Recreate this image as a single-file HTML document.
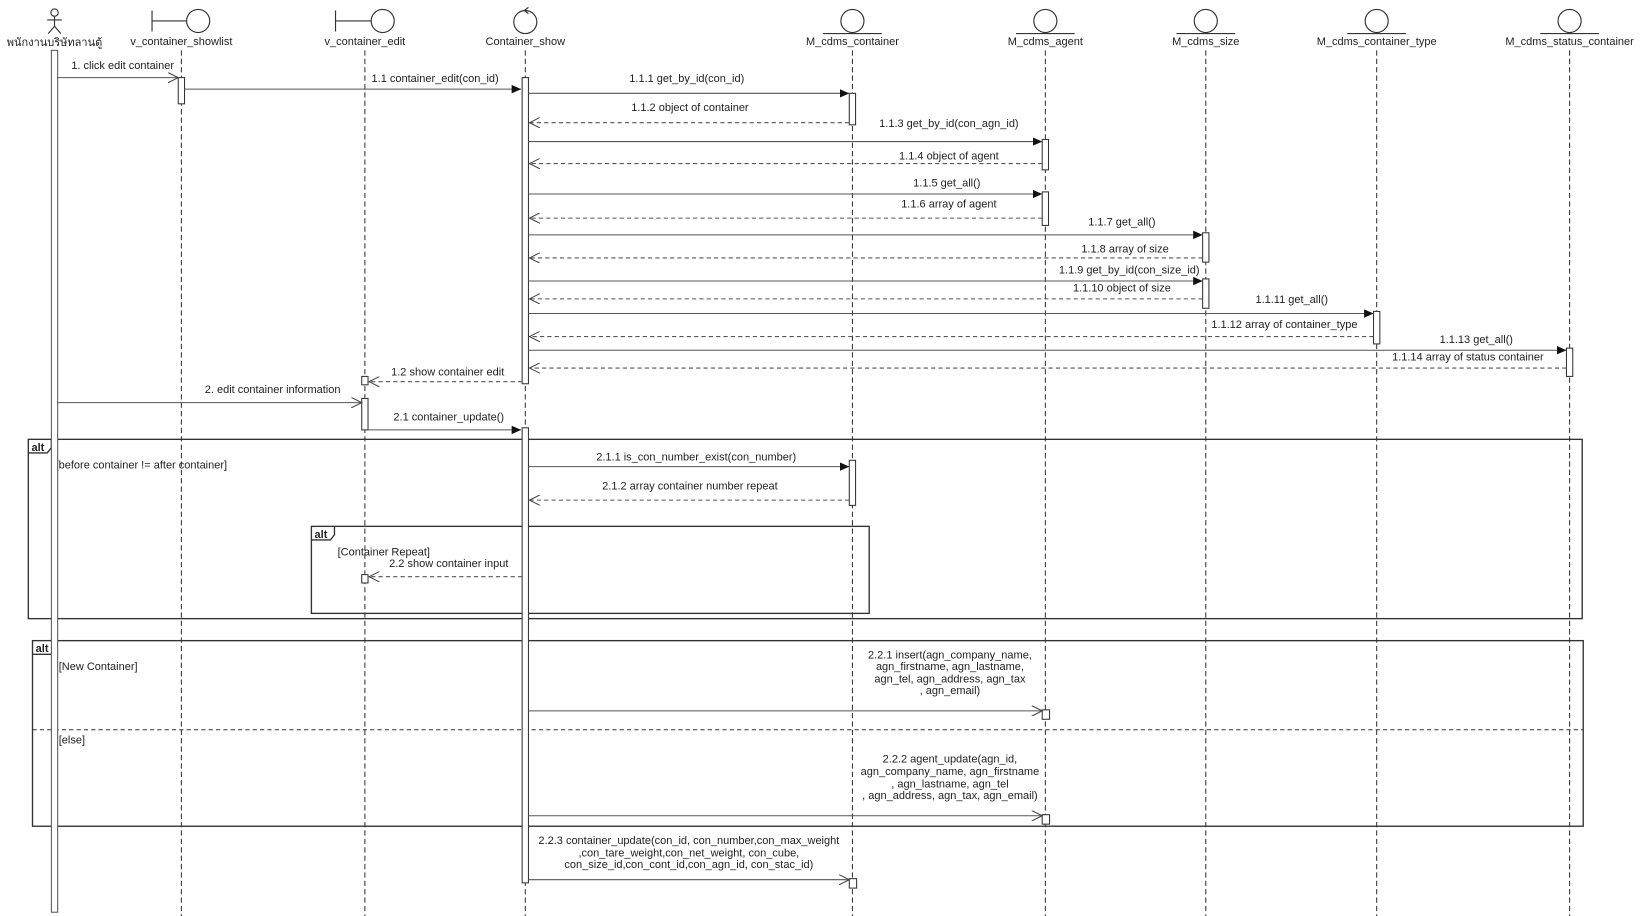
<!DOCTYPE html>
<html><head><meta charset="utf-8"><style>
html,body{margin:0;padding:0;background:#fff;width:1643px;height:916px;overflow:hidden}
svg{display:block}
text{font-family:"Liberation Sans","Noto Sans CJK SC",sans-serif;font-size:10.5px;fill:#222}
.ll{stroke:#333;stroke-width:1;stroke-dasharray:5,3}
.m{stroke:#555;stroke-width:1;fill:none}
.r{stroke:#555;stroke-width:1;fill:none;stroke-dasharray:4,3}
.act{fill:#fff;stroke:#333;stroke-width:1}
.fr{fill:none;stroke:#333;stroke-width:1.3}
.ic{fill:none;stroke:#333;stroke-width:1.1}
</style></head><body>
<svg width="1643" height="916" viewBox="0 0 1567 873.6" xmlns="http://www.w3.org/2000/svg">
<defs>
<marker id="f" markerWidth="10" markerHeight="10" refX="9" refY="4" orient="auto" markerUnits="userSpaceOnUse"><path d="M0,0 L9,4 L0,8 Z" fill="#111"/></marker>
<marker id="o" markerWidth="12" markerHeight="10" refX="10" refY="5" orient="auto" markerUnits="userSpaceOnUse"><path d="M0,0 L10,5 L0,10" fill="none" stroke="#444" stroke-width="1"/></marker>
</defs>
<!-- lifelines -->
<line class="ll" x1="173" y1="48" x2="173" y2="874"/>
<line class="ll" x1="348" y1="48" x2="348" y2="874"/>
<line class="ll" x1="501" y1="48" x2="501" y2="874"/>
<line class="ll" x1="813" y1="48" x2="813" y2="874"/>
<line class="ll" x1="997" y1="48" x2="997" y2="874"/>
<line class="ll" x1="1150" y1="48" x2="1150" y2="874"/>
<line class="ll" x1="1313" y1="48" x2="1313" y2="874"/>
<line class="ll" x1="1497" y1="48" x2="1497" y2="874"/>
<!-- header icons -->
<circle class="ic" cx="52" cy="12" r="3.5"/>
<path class="ic" d="M52,15.5 V25 M45,19 H59 M52,25 L46,32 M52,25 L58,32"/>
<path class="ic" d="M145,10 V30 M145,20 H178"/><circle class="ic" cx="189" cy="20" r="11"/>
<path class="ic" d="M320,10 V30 M320,20 H354"/><circle class="ic" cx="365" cy="20" r="11"/>
<circle class="ic" cx="501" cy="21" r="11"/><path class="ic" d="M504,7 L500,10 L504,13"/>
<g class="ic">
<circle cx="813" cy="20" r="11"/><line x1="785" y1="32" x2="841" y2="32"/>
<circle cx="997" cy="20" r="11"/><line x1="969" y1="32" x2="1025" y2="32"/>
<circle cx="1150" cy="20" r="11"/><line x1="1122" y1="32" x2="1178" y2="32"/>
<circle cx="1313" cy="20" r="11"/><line x1="1285" y1="32" x2="1341" y2="32"/>
<circle cx="1497" cy="20" r="11"/><line x1="1469" y1="32" x2="1525" y2="32"/>
</g>
<g text-anchor="middle">
<text x="52" y="44">พนักงานบริษัทลานตู้</text>
<text x="173" y="43">v_container_showlist</text>
<text x="348" y="43">v_container_edit</text>
<text x="501" y="43">Container_show</text>
<text x="813" y="43">M_cdms_container</text>
<text x="997" y="43">M_cdms_agent</text>
<text x="1150" y="43">M_cdms_size</text>
<text x="1313" y="43">M_cdms_container_type</text>
<text x="1497" y="43">M_cdms_status_container</text>
</g>
<!-- frames -->
<rect class="fr" x="27" y="419" width="1482" height="171"/>
<path class="fr" d="M27,432 H45 L49,427 V419" fill="#fff"/>
<text x="30" y="430" style="font-weight:bold">alt</text>
<text x="53" y="447">[before container != after container]</text>
<rect class="fr" x="297" y="502" width="532" height="83"/>
<path class="fr" d="M297,515 H315 L319,510 V502"/>
<text x="300" y="513" style="font-weight:bold">alt</text>
<text x="322" y="530">[Container Repeat]</text>
<rect class="fr" x="31" y="611" width="1479" height="177"/>
<path class="fr" d="M31,624 H49 L53,619 V611"/>
<text x="34" y="622" style="font-weight:bold">alt</text>
<text x="56" y="639">[New Container]</text>
<line x1="31" y1="696" x2="1510" y2="696" stroke="#333" stroke-dasharray="4,3"/>
<text x="56" y="709">[else]</text>
<!-- actor bar -->
<rect class="act" x="49" y="48" width="6" height="822" style="stroke:#555"/>
<!-- activations -->
<rect class="act" x="170" y="74" width="6" height="25"/>
<rect class="act" x="498" y="74" width="6" height="292"/>
<rect class="act" x="810" y="89" width="6" height="30"/>
<rect class="act" x="994" y="133" width="6" height="29"/>
<rect class="act" x="994" y="183" width="6" height="32"/>
<rect class="act" x="1147" y="222" width="6" height="28"/>
<rect class="act" x="1147" y="266" width="6" height="28"/>
<rect class="act" x="1310" y="297" width="6" height="31"/>
<rect class="act" x="1494" y="332" width="6" height="27"/>
<rect class="act" x="345" y="359" width="6" height="8"/>
<rect class="act" x="345" y="380" width="6" height="30"/>
<rect class="act" x="498" y="408" width="6" height="434"/>
<rect class="act" x="810" y="439" width="6" height="43"/>
<rect class="act" x="345" y="548" width="6" height="8"/>
<rect class="act" x="994" y="677" width="7" height="9"/>
<rect class="act" x="994" y="777" width="7" height="9"/>
<rect class="act" x="810" y="838" width="7" height="9"/>
<!-- messages -->
<line class="m" x1="55" y1="74" x2="170" y2="74" marker-end="url(#o)"/>
<line class="m" x1="176" y1="85" x2="497" y2="85" marker-end="url(#f)"/>
<line class="m" x1="504" y1="89" x2="810" y2="89" marker-end="url(#f)"/>
<line class="r" x1="810" y1="117" x2="505" y2="117" marker-end="url(#o)"/>
<line class="m" x1="504" y1="135" x2="994" y2="135" marker-end="url(#f)"/>
<line class="r" x1="994" y1="156" x2="505" y2="156" marker-end="url(#o)"/>
<line class="m" x1="504" y1="185" x2="994" y2="185" marker-end="url(#f)"/>
<line class="r" x1="994" y1="208" x2="505" y2="208" marker-end="url(#o)"/>
<line class="m" x1="504" y1="224" x2="1147" y2="224" marker-end="url(#f)"/>
<line class="r" x1="1147" y1="246" x2="505" y2="246" marker-end="url(#o)"/>
<line class="m" x1="504" y1="268" x2="1147" y2="268" marker-end="url(#f)"/>
<line class="r" x1="1147" y1="285" x2="505" y2="285" marker-end="url(#o)"/>
<line class="m" x1="504" y1="299" x2="1310" y2="299" marker-end="url(#f)"/>
<line class="r" x1="1310" y1="321" x2="505" y2="321" marker-end="url(#o)"/>
<line class="m" x1="504" y1="334" x2="1494" y2="334" marker-end="url(#f)"/>
<line class="r" x1="1494" y1="351" x2="505" y2="351" marker-end="url(#o)"/>
<line class="r" x1="498" y1="364" x2="352" y2="364" marker-end="url(#o)"/>
<line class="m" x1="55" y1="384" x2="345" y2="384" marker-end="url(#o)"/>
<line class="m" x1="351" y1="410" x2="497" y2="410" marker-end="url(#f)"/>
<line class="m" x1="504" y1="445" x2="810" y2="445" marker-end="url(#f)"/>
<line class="r" x1="810" y1="477" x2="505" y2="477" marker-end="url(#o)"/>
<line class="r" x1="498" y1="550" x2="352" y2="550" marker-end="url(#o)"/>
<line class="m" x1="504" y1="678" x2="994" y2="678" marker-end="url(#o)"/>
<line class="m" x1="504" y1="778" x2="994" y2="778" marker-end="url(#o)"/>
<line class="m" x1="504" y1="839" x2="810" y2="839" marker-end="url(#o)"/>
<!-- labels -->
<g text-anchor="middle">
<text x="117" y="66">1. click edit container</text>
<text x="415" y="78">1.1 container_edit(con_id)</text>
<text x="655" y="78">1.1.1 get_by_id(con_id)</text>
<text x="658" y="106">1.1.2 object of container</text>
<text x="905" y="121">1.1.3 get_by_id(con_agn_id)</text>
<text x="905" y="152">1.1.4 object of agent</text>
<text x="903" y="178">1.1.5 get_all()</text>
<text x="905" y="198">1.1.6 array of agent</text>
<text x="1070" y="215">1.1.7 get_all()</text>
<text x="1073" y="241">1.1.8 array of size</text>
<text x="1077" y="261">1.1.9 get_by_id(con_size_id)</text>
<text x="1070" y="278">1.1.10 object of size</text>
<text x="1232" y="289">1.1.11 get_all()</text>
<text x="1225" y="313">1.1.12 array of container_type</text>
<text x="1408" y="327">1.1.13 get_all()</text>
<text x="1400" y="344">1.1.14 array of status container</text>
<text x="427" y="358">1.2 show container edit</text>
<text x="260" y="375">2. edit container information</text>
<text x="428" y="401">2.1 container_update()</text>
<text x="664" y="439">2.1.1 is_con_number_exist(con_number)</text>
<text x="658" y="467">2.1.2 array container number repeat</text>
<text x="428" y="541">2.2 show container input</text>
<text x="906" y="628">2.2.1 insert(agn_company_name,</text>
<text x="906" y="639">agn_firstname, agn_lastname,</text>
<text x="906" y="651">agn_tel, agn_address, agn_tax</text>
<text x="906" y="662">, agn_email)</text>
<text x="906" y="727">2.2.2 agent_update(agn_id,</text>
<text x="906" y="739">agn_company_name, agn_firstname</text>
<text x="906" y="751">, agn_lastname, agn_tel</text>
<text x="906" y="762">, agn_address, agn_tax, agn_email)</text>
<text x="657" y="805">2.2.3 container_update(con_id, con_number,con_max_weight</text>
<text x="657" y="817">,con_tare_weight,con_net_weight, con_cube,</text>
<text x="657" y="828">con_size_id,con_cont_id,con_agn_id, con_stac_id)</text>
</g>
</svg>
</body></html>
